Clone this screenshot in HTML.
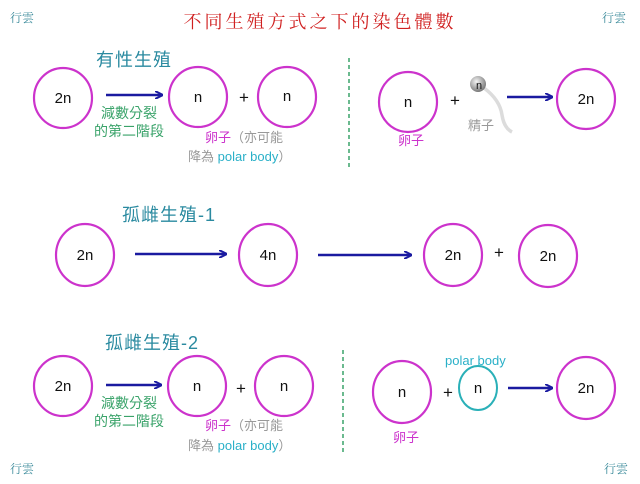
<!DOCTYPE html>
<html><head><meta charset="utf-8"><style>
html,body{margin:0;padding:0;background:#fff;}
svg{display:block;}
text{font-family:"Liberation Sans","Noto Sans CJK TC",sans-serif;}
.cj{font-family:"Noto Serif CJK SC","Noto Sans CJK TC",serif;}
</style></head><body>
<svg width="640" height="484" viewBox="0 0 640 484" xmlns="http://www.w3.org/2000/svg">
<defs>
<marker id="ah" markerWidth="8" markerHeight="8" refX="7" refY="4" orient="auto" markerUnits="userSpaceOnUse"><path d="M0,0 L8,4 L0,8" fill="none" stroke="#1a1aa0" stroke-width="2"/></marker>
<radialGradient id="sg" cx="0.4" cy="0.35" r="0.7"><stop offset="0" stop-color="#f4f4f4"/><stop offset="1" stop-color="#707070"/></radialGradient>
</defs>
<g fill="#3a8a9a" font-size="12" class="cj">
<text x="10" y="22" class="cj">行雲</text><text x="602" y="22" class="cj">行雲</text>
<text x="10" y="473" class="cj">行雲</text><text x="604" y="473" class="cj">行雲</text>
</g>
<text x="320" y="28" text-anchor="middle" font-size="18" fill="#d02020" class="cj" letter-spacing="3">不同生殖方式之下的染色體數</text>

<g fill="none" stroke="#cc33cc" stroke-width="2.2">
<ellipse cx="63" cy="98" rx="29" ry="30"/><ellipse cx="198" cy="97" rx="29" ry="30"/><ellipse cx="287" cy="97" rx="29" ry="30"/>
<ellipse cx="408" cy="102" rx="29" ry="30"/><ellipse cx="586" cy="99" rx="29" ry="30"/>
<ellipse cx="85" cy="255" rx="29" ry="31"/><ellipse cx="268" cy="255" rx="29" ry="31"/><ellipse cx="453" cy="255" rx="29" ry="31"/><ellipse cx="548" cy="256" rx="29" ry="31"/>
<ellipse cx="63" cy="386" rx="29" ry="30"/><ellipse cx="197" cy="386" rx="29" ry="30"/><ellipse cx="284" cy="386" rx="29" ry="30"/>
<ellipse cx="402" cy="392" rx="29" ry="31"/><ellipse cx="586" cy="388" rx="29" ry="31"/>
</g>
<ellipse cx="478" cy="388" rx="19" ry="22" fill="none" stroke="#2ab0b8" stroke-width="2"/>

<g stroke="#1a1aa0" stroke-width="2.5" marker-end="url(#ah)">
<line x1="106" y1="95" x2="162" y2="95"/><line x1="507" y1="97" x2="552" y2="97"/>
<line x1="135" y1="254" x2="226" y2="254"/><line x1="318" y1="255" x2="411" y2="255"/>
<line x1="106" y1="385" x2="161" y2="385"/><line x1="508" y1="388" x2="552" y2="388"/>
</g>
<g stroke="#3aa36a" stroke-width="1.5" stroke-dasharray="4,3">
<line x1="349" y1="58" x2="349" y2="168"/><line x1="343" y1="350" x2="343" y2="455"/>
</g>
<path d="M484,88 Q500,100 502,115 Q504,128 512,132" fill="none" stroke="#dcdcdc" stroke-width="3.5"/>
<circle cx="478" cy="84" r="8" fill="url(#sg)"/>

<g font-size="15" fill="#111" text-anchor="middle">
<text x="63" y="103">2n</text><text x="198" y="102">n</text><text x="287" y="101">n</text>
<text x="408" y="107">n</text><text x="586" y="104">2n</text><text x="479" y="89" font-size="11">n</text>
<text x="85" y="260">2n</text><text x="268" y="260">4n</text><text x="453" y="260">2n</text><text x="548" y="261">2n</text>
<text x="63" y="391">2n</text><text x="197" y="391">n</text><text x="284" y="391">n</text>
<text x="402" y="397">n</text><text x="478" y="393">n</text><text x="586" y="393">2n</text>
<text x="244" y="103" font-size="17">+</text><text x="455" y="106" font-size="17">+</text>
<text x="499" y="258" font-size="17">+</text><text x="241" y="394" font-size="17">+</text><text x="448" y="398" font-size="17">+</text>
</g>

<g fill="#2a8aa0" class="cj" font-size="18" letter-spacing="1">
<text x="96" y="66">有性生殖</text><text x="122" y="221">孤雌生殖-1</text><text x="105" y="349">孤雌生殖-2</text>
</g>
<g fill="#3aa36a" class="cj" font-size="14">
<text x="101" y="118">減數分裂</text><text x="94" y="136">的第二階段</text>
<text x="101" y="408">減數分裂</text><text x="94" y="426">的第二階段</text>
</g>
<g class="cj" font-size="13">
<text x="205" y="142" fill="#cc33cc">卵子<tspan fill="#999">（亦可能</tspan></text>
<text x="188" y="161" fill="#999">降為 <tspan fill="#2ab0c8" font-family="Liberation Sans">polar body</tspan>）</text>
<text x="205" y="430" fill="#cc33cc">卵子<tspan fill="#999">（亦可能</tspan></text>
<text x="188" y="450" fill="#999">降為 <tspan fill="#2ab0c8" font-family="Liberation Sans">polar body</tspan>）</text>
<text x="398" y="145" fill="#cc33cc">卵子</text>
<text x="468" y="130" fill="#999">精子</text>
<text x="393" y="442" fill="#cc33cc">卵子</text>
</g>
<text x="445" y="365" font-size="13" fill="#2ab0c8">polar body</text>
</svg>
</body></html>
